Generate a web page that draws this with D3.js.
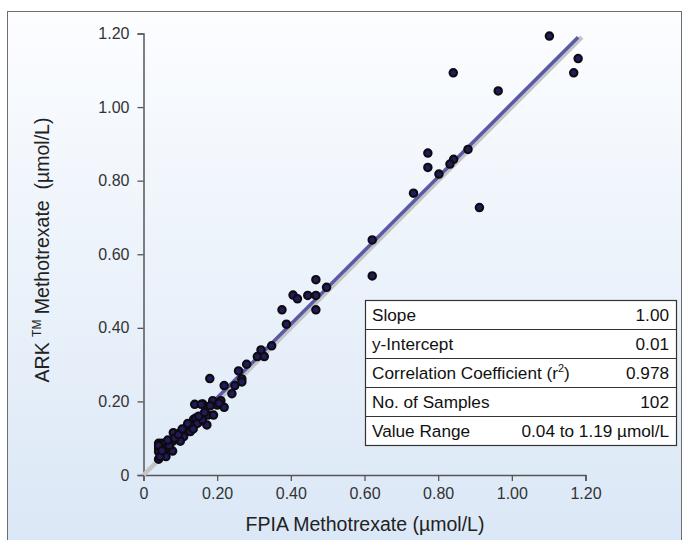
<!DOCTYPE html>
<html><head><meta charset="utf-8">
<script src="https://cdn.jsdelivr.net/npm/d3@7"></script>
<style>html,body{margin:0;padding:0;background:#fff;}svg{display:block;font-family:"Liberation Sans",Arial,sans-serif;}</style>
</head><body>
<svg id="c" width="688" height="540"></svg>
<script>
// ---- data ----
const xTickValues = [0, 0.2, 0.4, 0.6, 0.8, 1.0, 1.2];
const xTickLabels = ["0", "0.20", "0.40", "0.60", "0.80", "1.00", "1.20"];
const yTickValues = [0, 0.2, 0.4, 0.6, 0.8, 1.0, 1.2];
const yTickLabels = ["0", "0.20", "0.40", "0.60", "0.80", "1.00", "1.20"];
const fpia = [1.102,1.180,1.168,0.841,0.963,0.772,0.772,0.881,0.842,0.832,0.802,0.733,0.912,
  0.621,0.621,
  0.468,0.497,0.406,0.418,0.446,0.468,0.376,0.468,0.388,
  0.348,0.319,0.309,0.328,0.280,0.258,0.267,0.267,0.248,0.219,0.180,0.240,0.210,0.188,0.161,0.181,0.219,
  0.139,0.157,0.175,0.190,0.136,0.151,0.172,0.129,0.118,0.111,0.127,0.081,0.100,0.091,0.109,0.079,0.100,
  0.063,0.041,0.050,0.059,0.041,0.050,0.060,0.041,0.050,0.055,0.079,0.041,0.061,
  0.041,0.045,0.050,0.070,0.066,0.085,0.095,0.120,0.142,0.146,0.160,0.135,0.105,0.150,0.166,0.200,0.205];
const ark = [1.193,1.132,1.093,1.093,1.044,0.875,0.836,0.885,0.858,0.845,0.818,0.766,0.727,
  0.639,0.541,
  0.531,0.510,0.489,0.479,0.488,0.488,0.449,0.449,0.410,
  0.351,0.340,0.322,0.322,0.301,0.283,0.261,0.253,0.243,0.243,0.262,0.221,0.202,0.202,0.193,0.188,0.184,
  0.192,0.192,0.163,0.163,0.151,0.145,0.136,0.136,0.131,0.120,0.118,0.115,0.115,0.104,0.104,0.092,0.092,
  0.086,0.086,0.086,0.086,0.073,0.073,0.073,0.063,0.057,0.060,0.065,0.043,0.050,
  0.080,0.050,0.066,0.080,0.095,0.100,0.110,0.140,0.155,0.140,0.150,0.125,0.125,0.160,0.170,0.190,0.195];
const identityLine = [[0, 0], [1.19, 1.19]];
const regressionX = [0.04, 1.18];
const slope = 1.00, intercept = 0.01;
const statLabels = ["Slope", "y-Intercept", "Correlation Coefficient (r", "No. of Samples", "Value Range"];
const statValues = ["1.00", "0.01", "0.978", "102", "0.04 to 1.19 \u00b5mol/L"];

// ---- chart ----
const svg = d3.select("#c");
const defs = svg.append("defs");
const grad = defs.append("linearGradient").attr("id","bg").attr("x1",0).attr("y1",0).attr("x2",0).attr("y2",1);
grad.append("stop").attr("offset","0%").attr("stop-color","#fcfdff");
grad.append("stop").attr("offset","100%").attr("stop-color","#dae7f6");
svg.append("rect").attr("x",7.5).attr("y",11.5).attr("width",674).attr("height",540)
  .attr("fill","url(#bg)").attr("stroke","#6d6d6d").attr("stroke-width",1);

const x = d3.scaleLinear().domain([0, 1.2]).range([143.5, 585.5]);
const y = d3.scaleLinear().domain([0, 1.2]).range([475, 33.5]);

const xAxis = svg.append("g").attr("transform", `translate(0,${y(0)})`)
  .call(d3.axisBottom(x).tickValues(xTickValues).tickSize(6).tickPadding(7)
    .tickFormat((d,i) => xTickLabels[i]));
const yAxis = svg.append("g").attr("transform", `translate(${x(0)},0)`)
  .call(d3.axisLeft(y).tickValues(yTickValues).tickSize(6).tickPadding(8)
    .tickFormat((d,i) => yTickLabels[i]));
[xAxis, yAxis].forEach(g => {
  g.select(".domain").attr("stroke","#555").attr("stroke-width",1.5);
  g.selectAll(".tick line").attr("stroke","#555").attr("stroke-width",1.3);
  g.selectAll(".tick text").attr("fill","#333").style("font-size","16px").style("font-family","Liberation Sans, Arial, sans-serif");
});

// identity (grey) and regression (blue) lines
const line = d3.line().x(d => x(d[0])).y(d => y(d[1]));
svg.append("path").attr("d", line(identityLine)).attr("stroke","#c4c4c6").attr("stroke-width",4.5).attr("fill","none");
svg.append("path").attr("d", line(regressionX.map(v => [v, slope * v + intercept])))
  .attr("stroke","#5a5aa6").attr("stroke-width",3.5).attr("fill","none");

// points
svg.append("g").selectAll("circle").data(fpia.map((v,i) => [v, ark[i]])).join("circle")
  .attr("cx", d => x(d[0])).attr("cy", d => y(d[1])).attr("r", 3.7)
  .attr("fill","#231a58").attr("stroke","#0b0b10").attr("stroke-width",2.1);

// axis titles
svg.append("text").attr("x", 365).attr("y", 531).attr("text-anchor","middle")
  .attr("fill","#222").style("font-size","19.5px").text("FPIA Methotrexate (\u00b5mol/L)");
const yt = svg.append("text").attr("transform","translate(49,250) rotate(-90)").attr("text-anchor","middle")
  .attr("fill","#222").style("font-size","19.5px");
yt.append("tspan").text("ARK ");
yt.append("tspan").attr("dy",-8).style("font-size","12px").text("TM");
yt.append("tspan").attr("dy",8).text(" Methotrexate \u00a0(\u00b5mol/L)");

// stats table
const tb = {x: 365, y: 300, w: 311, rh: 29};
const tg = svg.append("g");
tg.append("rect").attr("x", tb.x + 0.5).attr("y", tb.y + 0.5).attr("width", tb.w).attr("height", tb.rh * statLabels.length)
  .attr("fill","#fff").attr("stroke","#333").attr("stroke-width",1.2);
statLabels.forEach((lab, i) => {
  if (i > 0) tg.append("line").attr("x1", tb.x).attr("x2", tb.x + tb.w).attr("y1", tb.y + i * tb.rh + 0.5).attr("y2", tb.y + i * tb.rh + 0.5)
    .attr("stroke","#333").attr("stroke-width",1.2);
  const t = tg.append("text").attr("x", tb.x + 7).attr("y", tb.y + i * tb.rh + 21).attr("fill","#111").style("font-size","17.2px");
  t.append("tspan").text(lab);
  if (i === 2) {
    t.append("tspan").attr("dy",-7).style("font-size","11px").text("2");
    t.append("tspan").attr("dy",7).text(")");
  }
  tg.append("text").attr("x", tb.x + tb.w - 7).attr("y", tb.y + i * tb.rh + 21).attr("text-anchor","end")
    .attr("fill","#111").style("font-size","17.2px").text(statValues[i]);
});
</script>
</body></html>
